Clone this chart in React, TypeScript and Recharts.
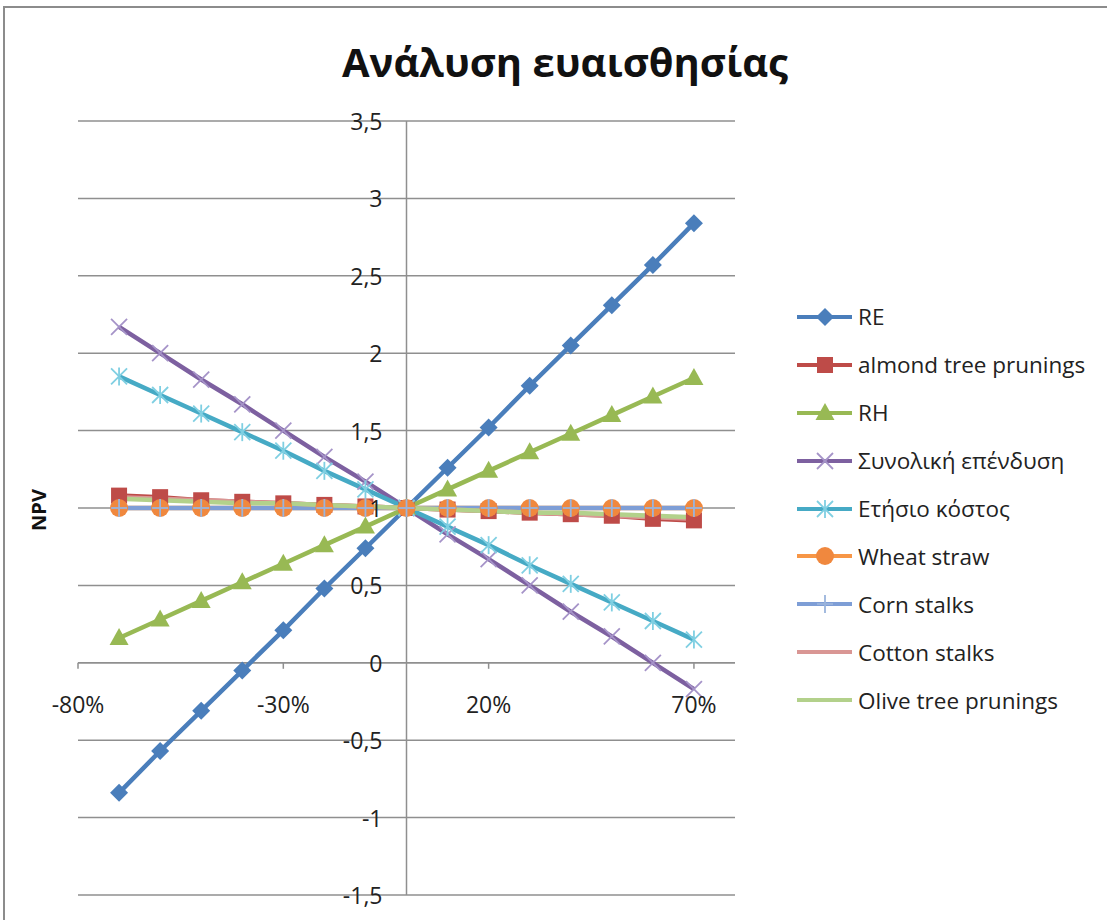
import React from 'react';
import { LineChart, Line, XAxis, YAxis, CartesianGrid, ReferenceLine, Legend } from 'recharts';

// ---- data ----
const xValues = [-0.7, -0.6, -0.5, -0.4, -0.3, -0.2, -0.1, 0, 0.1, 0.2, 0.3, 0.4, 0.5, 0.6, 0.7];
const reValues = [-0.84, -0.57, -0.31, -0.05, 0.21, 0.48, 0.74, 1, 1.26, 1.52, 1.79, 2.05, 2.31, 2.57, 2.84];
const almondValues = [1.08, 1.07, 1.05, 1.04, 1.03, 1.02, 1.01, 1, 0.99, 0.98, 0.97, 0.96, 0.95, 0.93, 0.92];
const rhValues = [0.16, 0.28, 0.4, 0.52, 0.64, 0.76, 0.88, 1, 1.12, 1.24, 1.36, 1.48, 1.6, 1.72, 1.84];
const investValues = [2.17, 2.0, 1.83, 1.67, 1.5, 1.33, 1.17, 1, 0.83, 0.67, 0.5, 0.33, 0.17, 0.0, -0.17];
const annualValues = [1.85, 1.73, 1.61, 1.49, 1.37, 1.24, 1.12, 1, 0.88, 0.76, 0.63, 0.51, 0.39, 0.27, 0.15];
const wheatValues = [1.0, 1.0, 1.0, 1.0, 1.0, 1.0, 1.0, 1, 1.0, 1.0, 1.0, 1.0, 1.0, 1.0, 1.0];
const cornValues = [1.0, 1.0, 1.0, 1.0, 1.0, 1.0, 1.0, 1, 1.0, 1.0, 1.0, 1.0, 1.0, 1.0, 1.0];
const cottonValues = [1.07, 1.06, 1.05, 1.04, 1.03, 1.02, 1.01, 1, 0.99, 0.98, 0.97, 0.96, 0.95, 0.94, 0.93];
const oliveValues = [1.06, 1.05, 1.04, 1.03, 1.03, 1.02, 1.01, 1, 0.99, 0.98, 0.97, 0.97, 0.96, 0.95, 0.94];

const seriesNames = ['RE', 'almond tree prunings', 'RH', 'Συνολική επένδυση', 'Ετήσιο κόστος', 'Wheat straw', 'Corn stalks', 'Cotton stalks', 'Olive tree prunings'];
const seriesKeys = ['re', 'almond', 'rh', 'invest', 'annual', 'wheat', 'corn', 'cotton', 'olive'];
const seriesValues = [reValues, almondValues, rhValues, investValues, annualValues, wheatValues, cornValues, cottonValues, oliveValues];
const seriesColors = ['#4A7EBB', '#BE4B48', '#98B954', '#7D60A0', '#46AAC5', '#F79646', '#7E9ED6', '#D99694', '#B3D18B'];
const markerColors = ['#4A7EBB', '#BE4B48', '#98B954', '#A593C8', '#7FCFE2', '#F0883E', '#9AB4DC', '', ''];
const markerShapes = ['diamond', 'square', 'triangle', 'x', 'star', 'circle', 'plus', 'none', 'none'];

const xTicks = [-0.8, -0.3, 0.2, 0.7];
const yTicks = [-1.5, -1, -0.5, 0, 0.5, 1, 1.5, 2, 2.5, 3, 3.5];
const X_DOMAIN = [-0.8, 0.8];
const Y_DOMAIN = [-1.5, 3.5];

const title = 'Ανάλυση ευαισθησίας';
const yLabel = 'NPV';

const data = xValues.map((x, i) => {
  const row: any = { x };
  seriesKeys.forEach((k, s) => { row[k] = seriesValues[s][i]; });
  return row;
});

// ---- layout ----
const W = 1107;
const H = 920;
const M = { top: 121, right: 372, bottom: 24, left: 77 };
const AXIS_X_H = 1;
const AXIS_Y_W = 1;
const PLOT_LEFT = M.left + AXIS_Y_W;
const PLOT_W = W - PLOT_LEFT - M.right;
const PLOT_H = H - M.top - M.bottom - AXIS_X_H;
const ZERO_X = PLOT_LEFT + (PLOT_W * (0 - X_DOMAIN[0])) / (X_DOMAIN[1] - X_DOMAIN[0]);
const ZERO_Y = M.top + (PLOT_H * (Y_DOMAIN[1] - 0)) / (Y_DOMAIN[1] - Y_DOMAIN[0]);

const FONT = '"Open Sans", "Noto Sans", sans-serif';
const AXIS_GRAY = '#8f8f8f';
const TICK_FS = 23;

function renderMarker(shape: string, cx: number, cy: number, color: string, key?: string) {
  switch (shape) {
    case 'diamond':
      return <polygon key={key} points={`${cx},${cy - 9} ${cx + 9},${cy} ${cx},${cy + 9} ${cx - 9},${cy}`} fill={color} />;
    case 'square':
      return <rect key={key} x={cx - 8} y={cy - 8} width={16} height={16} fill={color} />;
    case 'triangle':
      return <polygon key={key} points={`${cx},${cy - 10} ${cx + 9.5},${cy + 7} ${cx - 9.5},${cy + 7}`} fill={color} />;
    case 'x':
      return (
        <g key={key} stroke={color} strokeWidth={1.8}>
          <line x1={cx - 8} y1={cy - 8} x2={cx + 8} y2={cy + 8} />
          <line x1={cx - 8} y1={cy + 8} x2={cx + 8} y2={cy - 8} />
        </g>
      );
    case 'star':
      return (
        <g key={key} stroke={color} strokeWidth={1.8}>
          <line x1={cx - 8} y1={cy - 8} x2={cx + 8} y2={cy + 8} />
          <line x1={cx - 8} y1={cy + 8} x2={cx + 8} y2={cy - 8} />
          <line x1={cx} y1={cy - 9} x2={cx} y2={cy + 9} />
        </g>
      );
    case 'circle':
      return <circle key={key} cx={cx} cy={cy} r={9} fill={color} />;
    case 'plus':
      return (
        <g key={key} stroke={color} strokeWidth={1.8}>
          <line x1={cx - 8} y1={cy} x2={cx + 8} y2={cy} />
          <line x1={cx} y1={cy - 9} x2={cx} y2={cy + 9} />
        </g>
      );
    default:
      return <g key={key} />;
  }
}

const makeDot = (s: number) => (props: any) => {
  const { cx, cy, index } = props;
  if (cx == null || cy == null) return <g key={`d-${s}-${index}`} />;
  return renderMarker(markerShapes[s], cx, cy, markerColors[s], `d-${s}-${index}`);
};

const renderXTick = (props: any) => {
  const { x, payload, index } = props;
  const label = `${Math.round(payload.value * 100)}%`;
  return (
    <g key={`xt-${index}`}>
      <line x1={x} y1={ZERO_Y} x2={x} y2={ZERO_Y + 6} stroke={AXIS_GRAY} strokeWidth={1.5} />
      <text x={x} y={ZERO_Y + 41} textAnchor="middle" dominantBaseline="central" fontFamily={FONT} fontSize={TICK_FS} fill="#222">
        {label}
      </text>
    </g>
  );
};

const renderYTick = (props: any) => {
  const { y, payload, index } = props;
  const label = String(payload.value).replace('.', ',');
  return (
    <text key={`yt-${index}`} x={ZERO_X - 24} y={y} textAnchor="end" dominantBaseline="central" fontFamily={FONT} fontSize={TICK_FS} fill="#222">
      {label}
    </text>
  );
};

const LegendContent = () => (
  <div style={{ fontFamily: FONT, fontSize: 22.5, color: '#222' }}>
    {seriesNames.map((name, s) => (
      <div key={name} style={{ height: 47.9, display: 'flex', alignItems: 'center' }}>
        <svg width={58} height={22} style={{ display: 'block' }}>
          <line x1={0} y1={11} x2={55} y2={11} stroke={seriesColors[s]} strokeWidth={4} />
          {renderMarker(markerShapes[s], 28, 11, markerColors[s])}
        </svg>
        <span style={{ marginLeft: 3, whiteSpace: 'nowrap' }}>{name}</span>
      </div>
    ))}
  </div>
);

export default function App() {
  return (
    <div style={{ position: 'absolute', left: 0, top: 0, width: W, height: H, overflow: 'hidden', background: '#fff' }}>
      <div style={{ position: 'absolute', left: 3, top: 6, width: W + 20, height: H + 20, border: '2px solid #8c8c8c', boxSizing: 'border-box' }} />
      <div style={{ position: 'absolute', left: 0, top: 33, width: 1130, textAlign: 'center', fontFamily: FONT, fontWeight: 700, fontSize: 40, color: '#111', lineHeight: '58px' }}>
        {title}
      </div>
      <div style={{ position: 'absolute', left: 38, top: 510, transform: 'translate(-50%, -50%) rotate(-90deg)', fontFamily: FONT, fontWeight: 700, fontSize: 20, color: '#111' }}>
        {yLabel}
      </div>
      <div style={{ position: 'absolute', left: 0, top: 0 }}>
        <LineChart width={W} height={H} data={data} margin={M}>
          <CartesianGrid vertical={false} stroke={AXIS_GRAY} strokeWidth={1.5} />
          <XAxis dataKey="x" type="number" domain={X_DOMAIN} ticks={xTicks} height={AXIS_X_H} axisLine={false} tickLine={false} tick={renderXTick} interval={0} allowDataOverflow />
          <YAxis type="number" domain={Y_DOMAIN} ticks={yTicks} width={AXIS_Y_W} axisLine={false} tickLine={false} tick={renderYTick} interval={0} allowDataOverflow />
          <ReferenceLine x={0} stroke={AXIS_GRAY} strokeWidth={1.5} />
          <ReferenceLine y={0} stroke={AXIS_GRAY} strokeWidth={1.5} />
          <Legend layout="vertical" align="center" verticalAlign="middle" content={<LegendContent />} wrapperStyle={{ left: 797, top: 293, width: 310 }} />
          {seriesKeys.map((k, s) => (
            <Line key={k} dataKey={k} name={seriesNames[s]} type="linear" stroke={seriesColors[s]} strokeWidth={4.5} dot={makeDot(s)} activeDot={false} isAnimationActive={false} />
          ))}
        </LineChart>
      </div>
    </div>
  );
}
